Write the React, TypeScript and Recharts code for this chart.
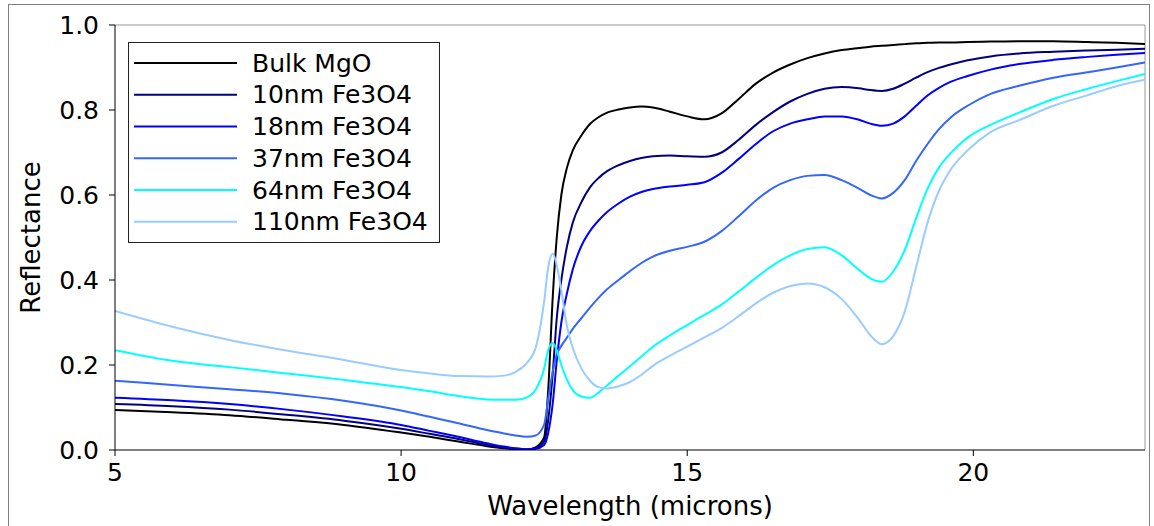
import { LineChart, Line, XAxis, YAxis, ReferenceLine } from 'recharts';

// Wavelength samples (microns)
const wavelength = [
  5, 6, 7, 8, 9, 10, 10.5, 11, 11.5, 11.8, 12.0, 12.2, 12.35, 12.5, 12.57, 12.65,
  12.72, 12.8, 12.9, 13.0, 13.15, 13.3, 13.45, 13.6, 13.8, 14.0, 14.2, 14.4, 14.7,
  15.0, 15.3, 15.6, 15.9, 16.2, 16.5, 16.8, 17.1, 17.4, 17.7, 18.0, 18.2, 18.4,
  18.6, 18.8, 19.0, 19.2, 19.4, 19.6, 19.9, 20.3, 20.8, 21.4, 22.0, 22.5, 23.0,
];

// Reflectance per sample
const bulkMgO = [
  0.094, 0.089, 0.082, 0.071, 0.059, 0.041, 0.031, 0.020, 0.009, 0.004, 0.002, 0.001,
  0.006, 0.03, 0.14, 0.36, 0.50, 0.60, 0.665, 0.705, 0.74, 0.767, 0.783, 0.794, 0.801,
  0.806, 0.808, 0.806, 0.796, 0.785, 0.778, 0.792, 0.826, 0.862, 0.888, 0.907, 0.922,
  0.933, 0.941, 0.946, 0.949, 0.951, 0.953, 0.955, 0.957, 0.958, 0.959, 0.959, 0.96,
  0.961, 0.962, 0.962, 0.96, 0.958, 0.955,
];
const fe10 = [
  0.108, 0.103, 0.095, 0.083, 0.069, 0.050, 0.038, 0.026, 0.012, 0.006, 0.003, 0.001,
  0.004, 0.02, 0.07, 0.18, 0.31, 0.40, 0.48, 0.535, 0.583, 0.618, 0.64, 0.656, 0.67,
  0.68, 0.687, 0.691, 0.693, 0.691, 0.69, 0.70, 0.73, 0.765, 0.795, 0.82, 0.838, 0.85,
  0.854, 0.851, 0.847, 0.845, 0.85, 0.862, 0.876, 0.889, 0.899, 0.907, 0.917, 0.926,
  0.933, 0.937, 0.94, 0.942, 0.944,
];
const fe18 = [
  0.123, 0.117, 0.108, 0.095, 0.079, 0.059, 0.045, 0.031, 0.016, 0.008, 0.004, 0.002,
  0.003, 0.012, 0.04, 0.11, 0.21, 0.30, 0.37, 0.425, 0.48, 0.515, 0.54, 0.56, 0.58,
  0.596, 0.607, 0.614, 0.62, 0.624, 0.63, 0.652, 0.685, 0.72, 0.75, 0.768, 0.778,
  0.785, 0.785, 0.777, 0.768, 0.763, 0.768, 0.785, 0.81, 0.834, 0.852, 0.866, 0.88,
  0.895, 0.908, 0.918, 0.925, 0.93, 0.934,
];
const fe37 = [
  0.163, 0.153, 0.143, 0.132, 0.116, 0.093, 0.078, 0.063, 0.047, 0.039, 0.034, 0.031,
  0.034, 0.06, 0.12, 0.185, 0.225, 0.245, 0.265, 0.285, 0.31, 0.335, 0.358, 0.378, 0.40,
  0.421, 0.44, 0.455, 0.469, 0.478, 0.49, 0.515, 0.55, 0.587, 0.617, 0.635, 0.645,
  0.647, 0.635, 0.615, 0.6, 0.592, 0.605, 0.635, 0.68, 0.72, 0.755, 0.782, 0.81,
  0.838, 0.857, 0.876, 0.889, 0.90, 0.912,
];
const fe64 = [
  0.235, 0.21, 0.195, 0.18, 0.165, 0.148, 0.138, 0.127, 0.119, 0.118, 0.118, 0.124,
  0.142, 0.192, 0.235, 0.252, 0.235, 0.2, 0.165, 0.141, 0.126, 0.123, 0.135, 0.152,
  0.175, 0.197, 0.22, 0.243, 0.27, 0.294, 0.318, 0.342, 0.373, 0.405, 0.435, 0.458,
  0.473, 0.477, 0.458, 0.424, 0.404, 0.396, 0.42, 0.47, 0.545, 0.615, 0.665, 0.698,
  0.735, 0.765, 0.794, 0.826, 0.85, 0.868, 0.885,
];
const fe110 = [
  0.327, 0.29, 0.259, 0.234, 0.212, 0.188, 0.18, 0.174, 0.173, 0.175, 0.184, 0.205,
  0.24, 0.35, 0.43, 0.462, 0.435, 0.375, 0.29, 0.24, 0.192, 0.163, 0.148, 0.145, 0.15,
  0.16, 0.177, 0.198, 0.222, 0.243, 0.265, 0.287, 0.315, 0.345, 0.37, 0.386, 0.392,
  0.383, 0.355, 0.307, 0.27, 0.249, 0.268, 0.325, 0.43, 0.535, 0.61, 0.659, 0.705,
  0.748, 0.776, 0.81, 0.835, 0.856, 0.871,
];

const xTicks = [5, 10, 15, 20];
const yTicks = [0, 0.2, 0.4, 0.6, 0.8, 1.0];

const SERIES = [
  { key: 'bulk', name: 'Bulk MgO', color: '#000000', values: bulkMgO },
  { key: 'f10', name: '10nm Fe3O4', color: '#000080', values: fe10 },
  { key: 'f18', name: '18nm Fe3O4', color: '#0000ff', values: fe18 },
  { key: 'f37', name: '37nm Fe3O4', color: '#3366ff', values: fe37 },
  { key: 'f64', name: '64nm Fe3O4', color: '#00ffff', values: fe64 },
  { key: 'f110', name: '110nm Fe3O4', color: '#99ccff', values: fe110 },
];

const data = wavelength.map((w, i) => {
  const row: Record<string, number> = { w };
  SERIES.forEach((s) => { row[s.key] = s.values[i]; });
  return row;
});

const FONT = 'DejaVu Sans, sans-serif';
const FS = 25;
const LABEL_FS = 26;

const YLabel = ({ viewBox }: any) => {
  const cx = 31;
  const cy = viewBox ? viewBox.y + viewBox.height / 2 : 237.5;
  return (
    <text x={cx} y={cy} transform={`rotate(-90 ${cx} ${cy})`} textAnchor="middle"
      dominantBaseline="central" fontSize={LABEL_FS} fill="#000" fontFamily={FONT}>
      Reflectance
    </text>
  );
};

const XLabel = ({ viewBox }: any) => {
  const cx = viewBox ? viewBox.x + viewBox.width / 2 : 630;
  return (
    <text x={cx} y={506} textAnchor="middle" dominantBaseline="central"
      fontSize={LABEL_FS} fill="#000" fontFamily={FONT}>
      Wavelength (microns)
    </text>
  );
};

function LegendBox() {
  return (
    <svg width={313} height={202} style={{ position: 'absolute', left: 128, top: 42 }}>
      <rect x={0.5} y={0.5} width={311} height={200} fill="#fff" stroke="#222" strokeWidth={1} />
      {SERIES.map((s, i) => {
        const y = 21 + i * 31.75;
        return (
          <g key={s.key}>
            <line x1={6} x2={109} y1={y} y2={y} stroke={s.color} strokeWidth={2} />
            <text x={124} y={y} dominantBaseline="central" fontSize={FS} fontFamily={FONT} fill="#000">
              {s.name}
            </text>
          </g>
        );
      })}
    </svg>
  );
}

export default function App() {
  return (
    <div style={{ position: 'absolute', left: 0, top: 0, width: 1154, height: 526, overflow: 'hidden', background: '#fff', fontFamily: FONT }}>
      <div style={{ position: 'absolute', left: 8, top: 4, width: 1140, height: 600, border: '1px solid #808080' }} />
      <div style={{ position: 'absolute', left: 0, top: 0 }}>
        <LineChart width={1154} height={526} data={data}
          margin={{ top: 25, right: 9, bottom: 26, left: 0 }}>
          <XAxis dataKey="w" type="number" domain={[5, 23]} ticks={xTicks}
            allowDataOverflow height={50} tickSize={6} tickMargin={7}
            axisLine={{ stroke: '#000' }} tickLine={{ stroke: '#000' }}
            tick={{ fontSize: FS, fill: '#000', fontFamily: FONT }}
            label={<XLabel />} />
          <YAxis type="number" domain={[0, 1]} ticks={yTicks} allowDataOverflow
            width={115} tickSize={6} tickMargin={10}
            tickFormatter={(v: number) => v.toFixed(1)}
            axisLine={{ stroke: '#000' }} tickLine={{ stroke: '#000' }}
            tick={{ fontSize: FS, fill: '#000', fontFamily: FONT }}
            label={<YLabel />} />
          <ReferenceLine y={1} stroke="#999" strokeWidth={1} />
          <ReferenceLine x={23} stroke="#999" strokeWidth={1} />
          {SERIES.map((s) => (
            <Line key={s.key} type="monotone" dataKey={s.key} name={s.name}
              stroke={s.color} strokeWidth={2} dot={false} activeDot={false}
              isAnimationActive={false} />
          ))}
        </LineChart>
      </div>
      <LegendBox />
    </div>
  );
}
